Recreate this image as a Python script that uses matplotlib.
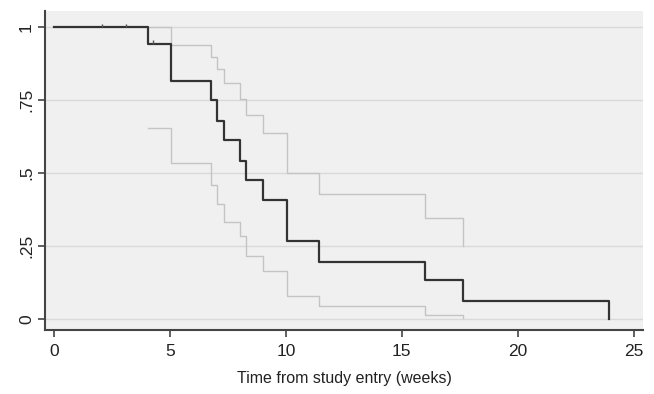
import matplotlib
matplotlib.use("Agg")
import matplotlib.pyplot as plt

# Kaplan-Meier estimate (step times and survival after each step)
times = [0, 4.05, 5.06, 6.79, 7.04, 7.33, 8.0, 8.3, 9.03, 10.03, 11.42, 16.0, 17.64, 23.94]
surv = [1.0, 0.943, 0.815, 0.75, 0.678, 0.612, 0.542, 0.476, 0.408, 0.268, 0.196, 0.133, 0.063, 0.0]

# Confidence band (steps)
ci_times = [4.05, 5.06, 6.79, 7.04, 7.33, 8.0, 8.3, 9.03, 10.03, 11.42, 16.0, 17.64]
ci_upper = [1.0, 0.94, 0.898, 0.858, 0.807, 0.755, 0.70, 0.636, 0.50, 0.43, 0.347, 0.25]
ci_lower = [0.654, 0.533, 0.459, 0.396, 0.333, 0.285, 0.215, 0.166, 0.08, 0.045, 0.015, 0.005]

# Censoring marks
cens_times = [2.06, 3.1, 4.25]
cens_surv = [1.0, 1.0, 0.943]

xticks = [0, 5, 10, 15, 20, 25]
yticks = [0, 0.25, 0.5, 0.75, 1]
ytick_labels = ["0", ".25", ".5", ".75", "1"]
xlabel = "Time from study entry (weeks)"

plt.rcParams['font.family'] = ['Liberation Sans', 'DejaVu Sans']

fig = plt.figure(figsize=(6.54, 3.94), dpi=100)
ax = fig.add_axes([45/654, 1 - 330/394, (643 - 45)/654, (330 - 11)/394])
ax.set_facecolor('#f0f0f0')

for yv in yticks:
    ax.axhline(yv, color='#d9d9d9', lw=1.0, zorder=1)

ax.step(ci_times, ci_upper, where='post', color='#c4c4c4', lw=1.0, zorder=2)
ax.step(ci_times, ci_lower, where='post', color='#c4c4c4', lw=1.0, zorder=2)
ax.step(times, surv, where='post', color='#333333', lw=1.6, zorder=3)
ax.vlines(cens_times, cens_surv, [s + 0.012 for s in cens_surv], color='#555555', lw=1.0, zorder=3)

ax.set_xlim(-0.39, 25.4)
ax.set_ylim(-0.037, 1.055)
ax.set_xticks(xticks)
ax.set_xticklabels([str(x) for x in xticks])
ax.set_yticks(yticks)
ax.set_yticklabels(ytick_labels, rotation=90, va='center')

for s in ['top', 'right']:
    ax.spines[s].set_visible(False)
for s in ['left', 'bottom']:
    ax.spines[s].set_color('#444444')
    ax.spines[s].set_linewidth(1.5)

ax.tick_params(axis='both', direction='out', length=5, width=1.2, color='#444444',
               labelsize=12.5, labelcolor='#222222')
ax.tick_params(axis='x', pad=5)
ax.tick_params(axis='y', pad=3)
ax.set_xlabel(xlabel, fontsize=11.5, color='#222222', labelpad=9)

fig.savefig('out.png', dpi=100, facecolor='white')
